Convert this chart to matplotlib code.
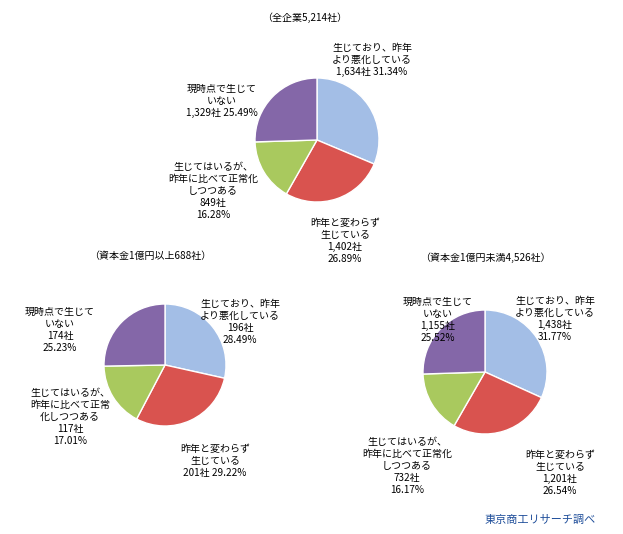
import matplotlib
matplotlib.use("Agg")
import matplotlib.pyplot as plt

plt.rcParams["font.family"] = "Noto Sans CJK JP"

categories = ["生じており、昨年より悪化している", "昨年と変わらず生じている",
              "生じてはいるが、昨年に比べて正常化しつつある", "現時点で生じていない"]
titles = ["（全企業5,214社）", "（資本金1億円以上688社）", "（資本金1億円未満4,526社）"]
counts_all = [1634, 1402, 849, 1329]
pct_all = [31.34, 26.89, 16.28, 25.49]
counts_large = [196, 201, 117, 174]
pct_large = [28.49, 29.22, 17.01, 25.23]
counts_small = [1438, 1201, 732, 1155]
pct_small = [31.77, 26.54, 16.17, 25.52]

colors = ["#A3BEE6", "#D9534F", "#A9C95E", "#8467A8"]
W, H = 623, 534
fig = plt.figure(figsize=(W/100, H/100), dpi=100)

def pie(cx, cy, r, vals):
    ax = fig.add_axes([(cx-r)/W, 1-(cy+r)/H, 2*r/W, 2*r/H])
    ax.pie(vals, colors=colors, startangle=90, counterclock=False, radius=1,
           wedgeprops=dict(edgecolor="white", linewidth=1))
    ax.set_xlim(-1, 1); ax.set_ylim(-1, 1); ax.axis("off")

def txt(x, y, s, **kw):
    fig.text(x/W, 1-y/H, s, ha="center", va="center", fontsize=7.2, linespacing=1.25, **kw)

def c(v): return f"{v:,}社"
def p(v): return f"{v:.2f}%"

pie(317, 140, 62, counts_all)
pie(165, 365, 61, counts_large)
pie(485, 372, 62, counts_small)

txt(305, 18, titles[0])
txt(150, 256, titles[1])
txt(485, 258, titles[2])

a, b = counts_all, pct_all
txt(372, 60, f"生じており、昨年\nより悪化している\n{c(a[0])} {p(b[0])}")
txt(345, 241, f"昨年と変わらず\n生じている\n{c(a[1])}\n{p(b[1])}")
txt(213, 191, f"生じてはいるが、\n昨年に比べて正常化\nしつつある\n{c(a[2])}\n{p(b[2])}")
txt(222, 101, f"現時点で生じて\nいない\n{c(a[3])} {p(b[3])}")

a, b = counts_large, pct_large
txt(240, 322, f"生じており、昨年\nより悪化している\n{c(a[0])}\n{p(b[0])}")
txt(215, 461, f"昨年と変わらず\n生じている\n{c(a[1])} {p(b[1])}")
txt(70, 417, f"生じてはいるが、\n昨年に比べて正常\n化しつつある\n{c(a[2])}\n{p(b[2])}")
txt(60, 330, f"現時点で生じて\nいない\n{c(a[3])}\n{p(b[3])}")

a, b = counts_small, pct_small
txt(555, 319, f"生じており、昨年\nより悪化している\n{c(a[0])}\n{p(b[0])}")
txt(560, 473, f"昨年と変わらず\n生じている\n{c(a[1])}\n{p(b[1])}")
txt(407, 466, f"生じてはいるが、\n昨年に比べて正常化\nしつつある\n{c(a[2])}\n{p(b[2])}")
txt(438, 320, f"現時点で生じて\nいない\n{c(a[3])}\n{p(b[3])}")

fig.text(540/W, 1-520/H, "東京商工リサーチ調べ", ha="center", va="center", fontsize=8, color="#1F4E9A")

fig.savefig("out.png", dpi=100)
